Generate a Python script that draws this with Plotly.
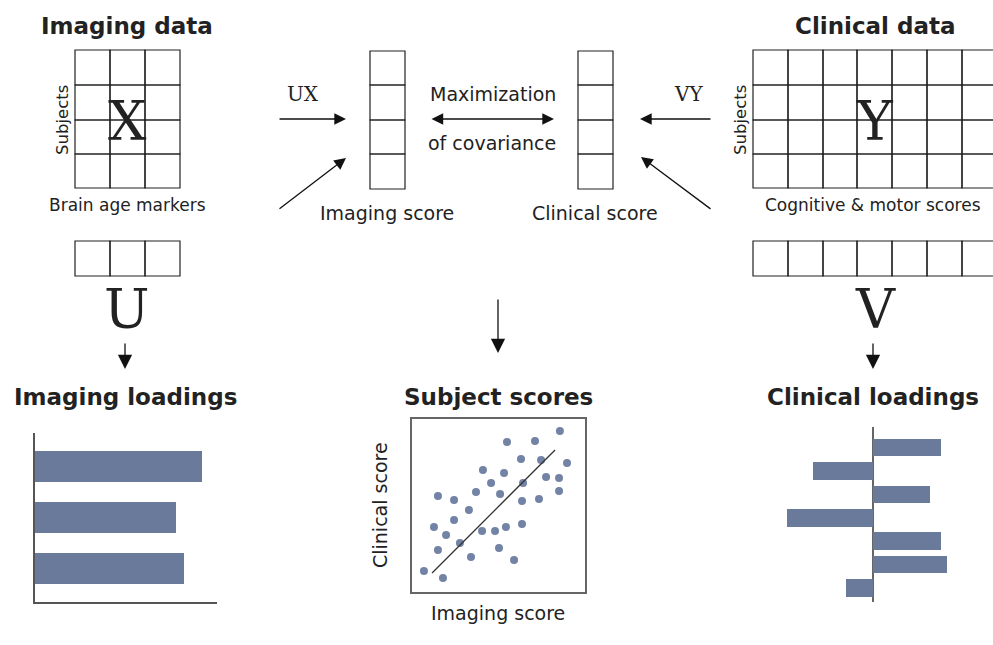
import plotly.graph_objects as go

W, H = 993, 645

# ---------------- data ----------------
imaging_markers = ["m1", "m2", "m3"]
imaging_loadings = [0.92, 0.775, 0.82]

clinical_items = ["c1", "c2", "c3", "c4", "c5", "c6", "c7"]
clinical_loadings = [0.85, -0.75, 0.71, -1.07, 0.85, 0.93, -0.34]

imaging_score = [8.55, 5.49, 7.11, 6.30, 7.46, 8.96, 4.10, 5.32, 4.57, 6.42, 7.75, 8.50,
                 1.50, 2.43, 3.70, 5.09, 6.36, 7.34, 8.50, 3.29, 2.43, 1.27, 1.97, 4.05,
                 4.80, 5.43, 6.36, 2.77, 1.50, 5.03, 3.41, 5.90, 0.69, 1.79]
clinical_score = [9.31, 8.67, 8.73, 7.69, 7.63, 7.46, 7.05, 6.88, 6.30, 6.30, 6.65, 6.59,
                  5.55, 5.32, 5.78, 5.66, 5.26, 5.38, 5.84, 4.74, 4.16, 3.76, 3.29, 3.53,
                  3.53, 3.76, 3.93, 2.83, 2.43, 2.54, 2.02, 1.85, 1.21, 0.81]
fit_x = [1.16, 8.27]
fit_y = [1.10, 8.21]

BAR = "#6a7a9a"
PT = "#7383a5"
INK = "#222222"


def px(x):
    return x / W


def py(y):
    return 1 - y / H


fig = go.Figure()

fig.add_trace(go.Bar(x=imaging_loadings, y=imaging_markers, orientation="h",
                     marker=dict(color=BAR, line=dict(width=0)), width=0.6,
                     xaxis="x", yaxis="y", showlegend=False))
fig.add_trace(go.Scatter(x=imaging_score, y=clinical_score, mode="markers",
                         marker=dict(color=PT, size=8), xaxis="x2", yaxis="y2",
                         showlegend=False))
fig.add_trace(go.Scatter(x=fit_x, y=fit_y, mode="lines",
                         line=dict(color="#333333", width=1.3), xaxis="x2", yaxis="y2",
                         showlegend=False))
fig.add_trace(go.Bar(x=clinical_loadings, y=clinical_items, orientation="h",
                     marker=dict(color=BAR, line=dict(width=0)), width=0.75,
                     xaxis="x3", yaxis="y3", showlegend=False))

shapes = []


def rect(x0, y0, x1, y1):
    shapes.append(dict(type="rect", xref="paper", yref="paper",
                       x0=px(x0), x1=px(x1), y0=py(y1), y1=py(y0),
                       line=dict(color=INK, width=1.2)))


def grid(xs, ys):
    for i in range(len(xs) - 1):
        for j in range(len(ys) - 1):
            rect(xs[i], ys[j], xs[i + 1], ys[j + 1])


rows = [50, 85, 120, 154, 188]
grid([75, 110, 145, 180], rows)
grid([75, 110, 145, 180], [241, 276])
cx = [753, 788, 823, 857, 892, 927, 962, 997]
grid(cx, rows)
grid(cx, [241, 276])
grid([370, 405], [51, 85, 120, 154, 189])
grid([578, 613], [51, 85, 120, 154, 189])

ann = []


def text(x, y, s, size, bold=False, family="DejaVu Sans", color=INK, angle=0):
    ann.append(dict(x=px(x), y=py(y), xref="paper", yref="paper", text=(f"<b>{s}</b>" if bold else s),
                    showarrow=False, xanchor="center", yanchor="middle", textangle=angle,
                    font=dict(family=family, size=size, color=color)))


def arrow(x0, y0, x1, y1, both=False, head=1.8):
    ann.append(dict(x=px(x1), y=py(y1), xref="paper", yref="paper", text="",
                    ax=x0 - x1, ay=y0 - y1, axref="pixel", ayref="pixel",
                    showarrow=True, arrowhead=2, arrowsize=head, arrowwidth=1.3,
                    arrowcolor="#111111", arrowside="end+start" if both else "end",
                    startarrowhead=2, startarrowsize=head))


text(127, 26, "Imaging data", 23, bold=True)
text(875, 26, "Clinical data", 23, bold=True)
text(127, 121, "X", 54, family="DejaVu Serif")
text(875, 121, "Y", 54, family="DejaVu Serif")
text(127, 309, "U", 54, family="DejaVu Serif")
text(875, 309, "V", 54, family="DejaVu Serif")
text(62, 120, "Subjects", 16.5, angle=-90)
text(740, 120, "Subjects", 16.5, angle=-90)
text(127, 205, "Brain age markers", 17)
text(873, 205, "Cognitive & motor scores", 17)
text(387, 213, "Imaging score", 19)
text(595, 213, "Clinical score", 19)
text(303, 94, "UX", 20, family="DejaVu Serif")
text(688, 94, "VY", 20, family="DejaVu Serif")
text(493, 94, "Maximization", 19)
text(492, 143, "of covariance", 19)

arrow(278, 119, 346, 119)
arrow(278, 210, 346, 158)
arrow(712, 119, 640, 119)
arrow(712, 210, 641, 157)
arrow(430, 119, 554, 119, both=True)
arrow(125, 342, 125, 369, head=2.2)
arrow(498, 298, 498, 353, head=2.2)
arrow(873, 342, 873, 369, head=2.2)

text(125, 397, "Imaging loadings", 23, bold=True)
text(498, 397, "Subject scores", 23, bold=True)
text(873, 397, "Clinical loadings", 23, bold=True)
text(380, 505, "Clinical score", 19, angle=-90)
text(498, 613, "Imaging score", 19)

hidden = dict(showticklabels=False, ticks="", showgrid=False, zeroline=False)

fig.update_layout(
    width=W, height=H, margin=dict(l=0, r=0, t=0, b=0),
    paper_bgcolor="white", plot_bgcolor="rgba(0,0,0,0)",
    shapes=shapes, annotations=ann, bargap=0,
    xaxis=dict(domain=[px(35), px(217)], range=[0, 1], anchor="y",
               showline=True, linecolor="#555555", linewidth=1.5, **hidden),
    yaxis=dict(domain=[py(602), py(433)], range=[2.66, -0.66], anchor="x",
               showline=True, linecolor="#555555", linewidth=1.5, **hidden),
    xaxis2=dict(domain=[px(412), px(585)], range=[0, 10], anchor="y2",
                showline=True, mirror=True, linecolor="#666666", linewidth=1.5, **hidden),
    yaxis2=dict(domain=[py(592), py(419)], range=[0, 10], anchor="x2",
                showline=True, mirror=True, linecolor="#666666", linewidth=1.5, **hidden),
    xaxis3=dict(domain=[px(780), px(960)], range=[-1.1625, 1.0875], anchor="y3",
                showticklabels=False, ticks="", showgrid=False, zeroline=True,
                zerolinecolor="#666666", zerolinewidth=1.5),
    yaxis3=dict(domain=[py(602), py(427)], range=[6.6, -0.88], anchor="x3", **hidden),
)

fig.write_html("out.html", config={"displayModeBar": False},
               post_script="document.body.style.margin='0';")
